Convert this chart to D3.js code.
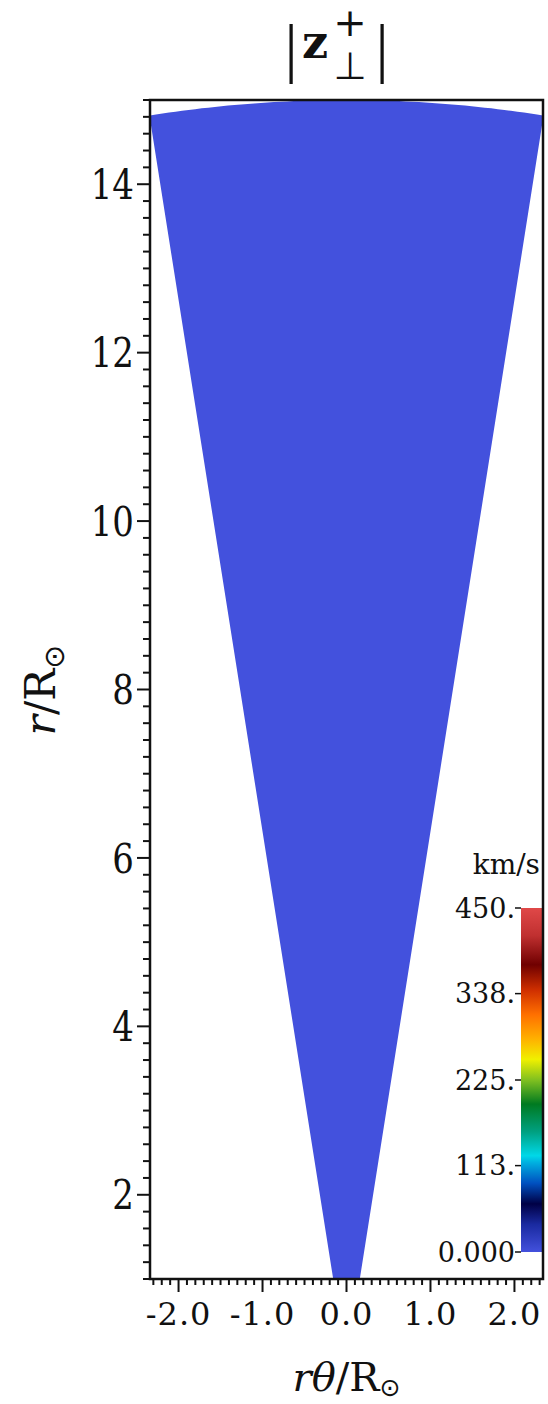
<!DOCTYPE html>
<html>
<head>
<meta charset="utf-8">
<script src="https://cdn.jsdelivr.net/npm/d3@7"></script>
<style>
  body { margin: 0; background: #fff; }
  text { font-family: "DejaVu Serif", serif; fill: #111; }
</style>
</head>
<body>
<div id="chart"></div>
<script>
var svgWidth = 548;
var svgHeight = 1404;

var margin = { top: 100, right: 5, bottom: 125, left: 150 };
var width = svgWidth - margin.left - margin.right;
var height = svgHeight - margin.top - margin.bottom;

// domain of the simulation (polar wedge)
var radiusRange = [1, 15];          // r / Rsun
var thetaRange = [-9, 9];           // degrees
var fieldValue = 0;                 // |z+perp| is 0 everywhere at this time

// axes
var xDomain = [-2.34, 2.34];
var yDomain = [1, 15];
var xTickLabels = [-2.0, -1.0, 0.0, 1.0, 2.0];
var yTickLabels = [2, 4, 6, 8, 10, 12, 14];

// colour bar
var cbarDomain = [0, 450];
var cbarTicks = [0, 113, 225, 338, 450];
var cbarTickText = ["0.000", "113.", "225.", "338.", "450."];
var cbarStops = [0, 0.08, 0.14, 0.2, 0.26, 0.28, 0.35, 0.43, 0.5, 0.56, 0.62, 0.69, 0.76, 0.835, 0.92, 1];
var cbarColors = ["#4351dd", "#1a2aa0", "#000045", "#0050c0", "#00b0e0", "#00d8e8", "#00a080", "#007a20",
                  "#80c020", "#f0f000", "#ffb000", "#ff7000", "#d03000", "#700000", "#c03030", "#e04848"];

var svg = d3.select("#chart")
  .append("svg")
  .attr("width", svgWidth)
  .attr("height", svgHeight);

var chartGroup = svg.append("g")
  .attr("transform", `translate(${margin.left}, ${margin.top})`);

var xScale = d3.scaleLinear().domain(xDomain).range([0, width]);
var yScale = d3.scaleLinear().domain(yDomain).range([height, 0]);

var colorScale = d3.scaleLinear()
  .domain(cbarStops.map(s => cbarDomain[0] + s * (cbarDomain[1] - cbarDomain[0])))
  .range(cbarColors);

svg.append("defs").append("clipPath").attr("id", "plotClip")
  .append("rect").attr("width", width).attr("height", height);

// wedge outline: outer arc then inner arc back
var deg = Math.PI / 180;
var arcSteps = d3.range(0, 61).map(i => thetaRange[0] + (thetaRange[1] - thetaRange[0]) * i / 60);
var wedgePts = arcSteps.map(t => [radiusRange[1] * Math.sin(t * deg), radiusRange[1] * Math.cos(t * deg)])
  .concat(arcSteps.slice().reverse().map(t => [radiusRange[0] * Math.sin(t * deg), radiusRange[0] * Math.cos(t * deg)]));

var line = d3.line().x(d => xScale(d[0])).y(d => yScale(d[1]));

chartGroup.append("path")
  .attr("clip-path", "url(#plotClip)")
  .attr("d", line(wedgePts) + "Z")
  .attr("fill", colorScale(fieldValue));

// x axis: minor ticks every 0.1, major every 1.0
var xMinor = d3.range(-23, 24).map(i => i / 10);
var xAxisG = chartGroup.append("g").attr("transform", `translate(0, ${height})`);
xAxisG.selectAll("line.minor")
  .data(xMinor)
  .enter()
  .append("line")
  .attr("x1", d => xScale(d)).attr("x2", d => xScale(d))
  .attr("y1", 0).attr("y2", d => Math.abs(d - Math.round(d)) < 1e-6 ? 13 : 6)
  .attr("stroke", "#111").attr("stroke-width", 2);
xAxisG.selectAll("text")
  .data(xTickLabels)
  .enter()
  .append("text")
  .attr("x", d => xScale(d))
  .attr("y", 46)
  .attr("text-anchor", "middle")
  .style("font-size", "32px")
  .style("letter-spacing", "1px")
  .text(d => d.toFixed(1));

// y axis: minor ticks every 0.2, major every 2
var yMinor = d3.range(5, 76).map(i => i / 5);
var yAxisG = chartGroup.append("g");
yAxisG.selectAll("line")
  .data(yMinor)
  .enter()
  .append("line")
  .attr("y1", d => yScale(d)).attr("y2", d => yScale(d))
  .attr("x1", 0).attr("x2", d => (Math.abs(d / 2 - Math.round(d / 2)) < 1e-6) ? -13 : -7)
  .attr("stroke", "#111").attr("stroke-width", 2);
yAxisG.selectAll("text")
  .data(yTickLabels)
  .enter()
  .append("text")
  .attr("transform", d => `translate(-16, ${yScale(d)}) scale(1, 1.2)`)
  .attr("dy", "0.36em")
  .attr("text-anchor", "end")
  .style("font-size", "34px")
  .text(d => d);

// colour bar
var cbarX = width - 22;
var cbarW = 22;
var cbarTop = 908 - margin.top;
var cbarBottom = 1252 - margin.top;
var cbarScale = d3.scaleLinear().domain(cbarDomain).range([cbarBottom, cbarTop]);

var grad = svg.select("defs").append("linearGradient")
  .attr("id", "cbarGrad").attr("x1", 0).attr("y1", 1).attr("x2", 0).attr("y2", 0);
grad.selectAll("stop")
  .data(cbarStops)
  .enter()
  .append("stop")
  .attr("offset", d => d)
  .attr("stop-color", (d, i) => cbarColors[i]);

chartGroup.append("rect")
  .attr("x", cbarX).attr("y", cbarTop)
  .attr("width", cbarW).attr("height", cbarBottom - cbarTop)
  .attr("fill", "url(#cbarGrad)");

var cbarG = chartGroup.append("g");
cbarG.selectAll("line")
  .data(cbarTicks)
  .enter()
  .append("line")
  .attr("x1", cbarX - 6).attr("x2", cbarX)
  .attr("y1", d => cbarScale(d)).attr("y2", d => cbarScale(d))
  .attr("stroke", "#111").attr("stroke-width", 1.5);
cbarG.selectAll("text")
  .data(cbarTicks)
  .enter()
  .append("text")
  .attr("x", cbarX - 6)
  .attr("y", d => cbarScale(d))
  .attr("dy", "0.36em")
  .attr("text-anchor", "end")
  .style("font-size", "27px")
  .text((d, i) => cbarTickText[i]);

chartGroup.append("text")
  .attr("x", cbarX + cbarW - 3)
  .attr("y", 874 - margin.top)
  .attr("text-anchor", "end")
  .style("font-size", "28px")
  .text("km/s");

// frame
chartGroup.append("rect")
  .attr("width", width).attr("height", height)
  .attr("fill", "none").attr("stroke", "#111").attr("stroke-width", 2.5);

// axis titles
svg.append("text")
  .attr("x", margin.left + xScale(0))
  .attr("y", 1391)
  .attr("text-anchor", "middle")
  .style("font-size", "40px")
  .html('<tspan font-style="italic">r</tspan><tspan font-style="italic">θ</tspan>/R<tspan font-family="DejaVu Sans" font-size="25px" dy="5">⊙</tspan>');

svg.append("text")
  .attr("transform", `translate(55, 690) scale(1.25, 1.25) rotate(-90)`)
  .attr("text-anchor", "middle")
  .style("font-size", "34px")
  .html('<tspan font-style="italic">r</tspan>/R<tspan font-family="DejaVu Sans" font-size="23px" dy="7">⊙</tspan>');

// title |z+perp|
var title = svg.append("g");
title.append("text").attr("x", 291).attr("y", 70).attr("text-anchor", "middle")
  .style("font-family", "Liberation Serif").style("font-size", "66px").text("|");
title.append("text").attr("x", 382).attr("y", 70).attr("text-anchor", "middle")
  .style("font-family", "Liberation Serif").style("font-size", "66px").text("|");
title.append("text").attr("x", 315).attr("y", 58).attr("text-anchor", "middle")
  .style("font-weight", "bold").style("font-size", "46px").text("z");
title.append("text").attr("x", 350).attr("y", 36).attr("text-anchor", "middle")
  .style("font-size", "40px").text("+");
title.append("text").attr("x", 350).attr("y", 79).attr("text-anchor", "middle")
  .style("font-family", "DejaVu Sans").style("font-size", "38px").text("⊥");
</script>
</body>
</html>
